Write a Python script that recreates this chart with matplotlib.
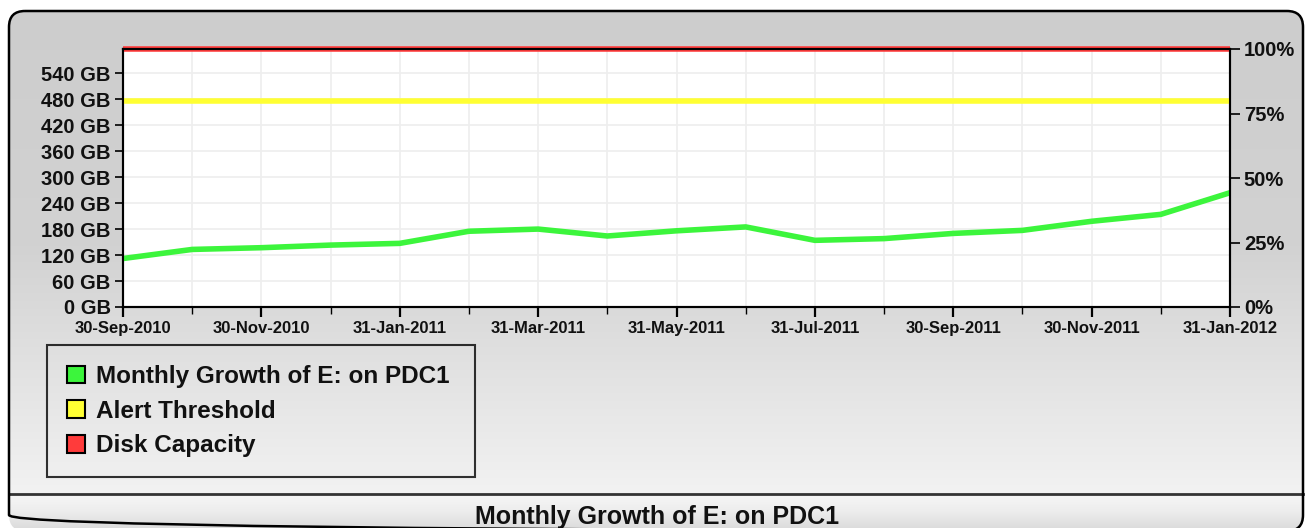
import matplotlib
matplotlib.use('Agg')
import matplotlib.pyplot as plt
from matplotlib import font_manager
from matplotlib.colors import LinearSegmentedColormap
from matplotlib.patches import FancyBboxPatch, Patch
import numpy as np

W, H = 1311, 528

# data
months = ['30-Sep-2010', '31-Oct-2010', '30-Nov-2010', '31-Dec-2010', '31-Jan-2011',
          '28-Feb-2011', '31-Mar-2011', '30-Apr-2011', '31-May-2011', '30-Jun-2011',
          '31-Jul-2011', '31-Aug-2011', '30-Sep-2011', '31-Oct-2011', '30-Nov-2011',
          '31-Dec-2011', '31-Jan-2012']
used_gb = [112, 133, 137, 143, 147, 175, 180, 164, 176, 185, 154, 158, 170, 177, 198, 214, 264]
capacity_gb = 596
alert_gb = 477
gb_ticks = [0, 60, 120, 180, 240, 300, 360, 420, 480, 540]
pct_ticks = [0, 25, 50, 75, 100]
legend_labels = ['Monthly Growth of E: on PDC1', 'Alert Threshold', 'Disk Capacity']
title = 'Monthly Growth of E: on PDC1'

GREEN = '#3cf53c'
YELLOW = '#ffff33'
RED = '#ff3b3b'


def pick_font(*names):
    for n in names:
        try:
            font_manager.findfont(n, fallback_to_default=False)
            return n
        except ValueError:
            continue
    return 'DejaVu Sans'


SANS = pick_font('Liberation Sans', 'Arial', 'DejaVu Sans')
plt.rcParams['font.family'] = SANS

fig = plt.figure(figsize=(W / 100, H / 100), dpi=100)
fig.patch.set_facecolor('white')

# background panel, drawn in pixel coordinates
bg = fig.add_axes([0, 0, 1, 1])
bg.set_xlim(0, W)
bg.set_ylim(H, 0)
bg.axis('off')

panel = FancyBboxPatch((9, 11), 1294, 520, boxstyle='round,pad=0,rounding_size=16',
                       fc='none', ec='black', lw=1.8, zorder=5)
bg.add_patch(panel)
cmap = LinearSegmentedColormap.from_list('g', ['#cdcdcd', '#d2d2d2', '#f2f2f2'])
img = bg.imshow(np.linspace(0, 1, 256).reshape(-1, 1), cmap=cmap, aspect='auto',
                extent=[0, W, 494, 0], zorder=1)
img.set_clip_path(panel)

cmap2 = LinearSegmentedColormap.from_list('b', ['#f6f6f6', '#ededed', '#dcdcdc'])
img2 = bg.imshow(np.linspace(0, 1, 64).reshape(-1, 1), cmap=cmap2, aspect='auto',
                 extent=[0, W, H, 494], zorder=2)
img2.set_clip_path(panel)
bg.plot([9, 1303], [494, 494], color='#333333', lw=2, zorder=4)
bg.text(657, 517, title, ha='center', va='center', fontsize=18, fontweight='bold',
        color='#111111')

# main plot
ax = fig.add_axes([123 / W, (H - 307) / H, (1230 - 123) / W, (307 - 49) / H])
ax.set_facecolor('white')
x = np.arange(len(months))
ax.plot(x, used_gb, color=GREEN, lw=4, solid_joinstyle='round', zorder=4)
ax.axhline(alert_gb, color=YELLOW, lw=4, zorder=3)
ax.axhline(capacity_gb, color=RED, lw=4, zorder=5, clip_on=False, solid_capstyle='butt')

ax.set_xlim(0, len(months) - 1)
ax.set_ylim(0, capacity_gb)
ax.set_xticks(x[::2])
ax.set_xticklabels(months[::2], fontweight='bold', fontsize=12, color='#111111')
ax.set_xticks(x[1::2], minor=True)
ax.set_yticks(gb_ticks)
ax.set_yticklabels(['%d GB' % v for v in gb_ticks], fontweight='bold', fontsize=14.5,
                   color='#111111')
ax.grid(True, which='both', color='#eeeeee', lw=1.2, zorder=0)
ax.set_axisbelow(True)
ax.tick_params(axis='x', which='major', direction='out', length=7, width=1.6, pad=3)
ax.tick_params(axis='x', which='minor', direction='out', length=5, width=1)
ax.tick_params(axis='y', direction='out', length=6, width=1.2, pad=3)
for s in ['left', 'bottom', 'right', 'top']:
    ax.spines[s].set_linewidth(1.5)
ax.spines['top'].set_zorder(6)

ax2 = ax.twinx()
ax2.set_ylim(0, 100)
ax2.set_yticks(pct_ticks)
ax2.set_yticklabels(['%d%%' % v for v in pct_ticks], fontweight='bold', fontsize=14.5,
                    color='#111111')
ax2.tick_params(axis='y', direction='out', length=7, width=1.2, pad=3)
for s in ['left', 'bottom', 'right', 'top']:
    ax2.spines[s].set_linewidth(1.5)

handles = [Patch(fc=c, ec='black', lw=1.5) for c in (GREEN, YELLOW, RED)]
leg = fig.legend(handles, legend_labels, loc='upper left', mode='expand',
                 bbox_to_anchor=(47 / W, 1 - 482 / H, 428 / W, 137 / H),
                 prop={'weight': 'bold', 'size': 17.5}, frameon=True, fancybox=False,
                 borderaxespad=0, borderpad=0.82, handlelength=0.74, handleheight=0.74,
                 handletextpad=0.45, labelspacing=0.48)
for t in leg.get_texts():
    t.set_color('#111111')
leg.get_frame().set_edgecolor('black')
leg.get_frame().set_linewidth(1.5)
leg.get_frame().set_facecolor('none')

fig.savefig('out.png', dpi=100)
